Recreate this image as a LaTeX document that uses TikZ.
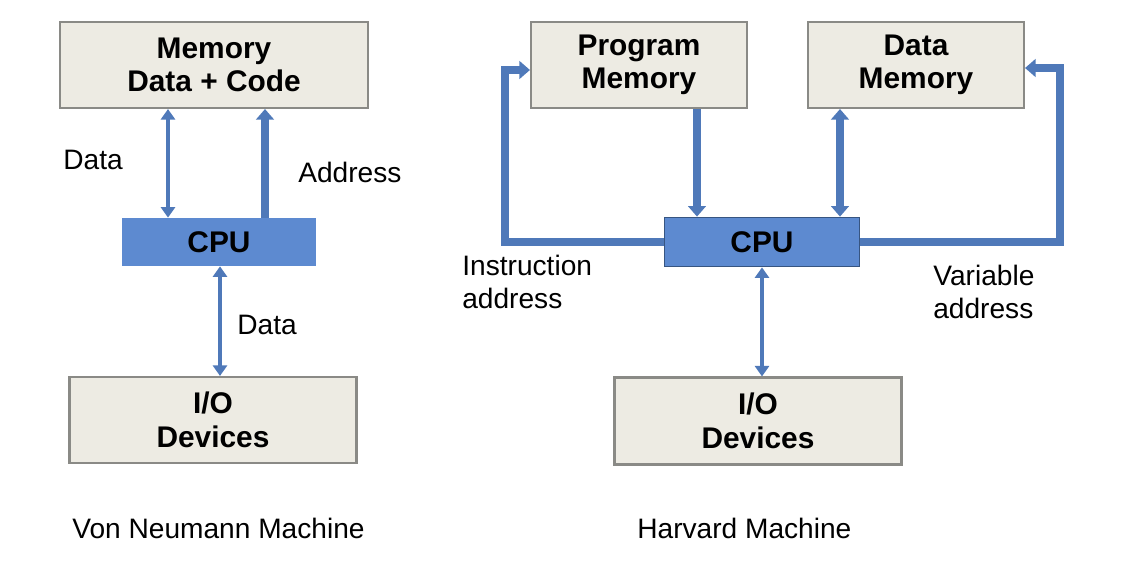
\documentclass[tikz,border=0pt]{standalone}
\usepackage{fontspec}
\setmainfont{Liberation Sans}
\usetikzlibrary{positioning,arrows.meta}
\definecolor{boxfill}{HTML}{EDEBE3}
\definecolor{boxline}{HTML}{8A8A86}
\definecolor{cpublue}{HTML}{5D8AD0}
\definecolor{arrblue}{HTML}{4F79B9}
\tikzset{
  box/.style={draw=boxline, fill=boxfill, line width=1.2pt, align=center, font=\fontsize{17}{19}\selectfont\bfseries},
  cpu/.style={fill=cpublue, align=center, font=\fontsize{17}{19}\selectfont\bfseries},
  thin/.style={arrblue, line width=2.2pt, {Triangle[length=6pt,width=8pt]}-{Triangle[length=6pt,width=8pt]}},
  wide/.style={arrblue, line width=4.5pt, -{Triangle[length=6pt,width=10pt]}},
  lbl/.style={font=\fontsize{16}{19}\selectfont, align=left, anchor=west, inner sep=0pt}
}
\begin{document}
\begin{tikzpicture}[x=0.02cm,y=-0.02cm]
        \useasboundingbox (0,0) rectangle (1127,564);
        % Von Neumann
        \node (mem) at (214,65) [box, minimum width=6.16cm, minimum height=1.72cm] {Memory\\Data + Code};
        \node (cpu1) at (219,242) [cpu, minimum width=3.88cm, minimum height=0.96cm] {CPU};
        \node (io1) at (213,420) [box, minimum width=5.74cm, minimum height=1.72cm] {I/O\\Devices};
        \draw[thin] (mem.south -| 168,0) -- (cpu1.north -| 168,0);
        \draw[wide] (cpu1.north -| 265,0) -- (mem.south -| 265,0);
        \draw[thin] (cpu1.south -| 220,0) -- (io1.north -| 220,0);
        \node[lbl] at (63,160) {Data};
        \node[lbl] at (298,172) {Address};
        \node[lbl] at (237,325) {Data};
        \node[lbl] at (72,528) {Von Neumann Machine};
        % Harvard
        \node (pmem) at (639,65) [box, minimum width=4.32cm, minimum height=1.72cm] {Program\\Memory};
        \node (dmem) at (916,65) [box, minimum width=4.32cm, minimum height=1.72cm] {Data\\Memory};
        \node (cpu2) at (762,242) [cpu, draw=arrblue!70!black, line width=1pt, minimum width=3.9cm, minimum height=0.98cm] {CPU};
        \node (io2) at (758,421) [box, minimum width=5.74cm, minimum height=1.74cm] {I/O\\Devices};
        \draw[wide] (pmem.south -| 697,0) -- (cpu2.north -| 697,0);
        \draw[wide, {Triangle[length=6pt,width=10pt]}-{Triangle[length=6pt,width=10pt]}] (dmem.south -| 840,0) -- (cpu2.north -| 840,0);
        \draw[wide] (cpu2.west) -- (505,242) -- (505,70) -- (pmem.west |- 0,70);
        \draw[wide] (cpu2.east) -- (1060,242) -- (1060,68) -- (dmem.east |- 0,68);
        \draw[thin] (cpu2.south -| 762,0) -- (io2.north -| 762,0);
        \node[lbl] at (462,282) {Instruction\\address};
        \node[lbl] at (933,292) {Variable\\address};
        \node[lbl] at (637,528) {Harvard Machine};
\end{tikzpicture}
\end{document}
